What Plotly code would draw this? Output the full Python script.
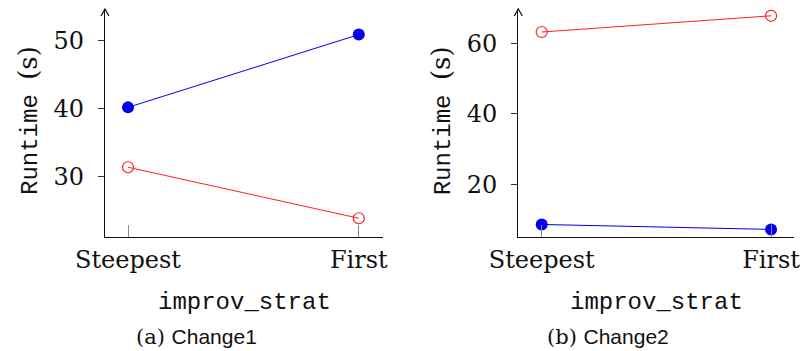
import plotly.graph_objects as go

W, H = 804, 351

categories = ["Steepest", "First"]
change1_blue = [40.2, 50.9]
change1_red = [31.4, 23.9]
change2_blue = [8.6, 7.2]
change2_red = [63.2, 67.8]
yticks_1 = [30, 40, 50]
yticks_2 = [20, 40, 60]
caption_tags = ["(a)", "(b)"]
caption_names = ["Change1", "Change2"]
x_title = "improv_strat"
y_title_mono = "Runtime"
y_title_unit = "(s)"

BLUE = "#0000ee"
RED = "#ff2020"
SERIF = "DejaVu Serif"
MONO = "Liberation Mono"
SANS = "Liberation Sans"


def fx(px):
    return px / W


def fy(py):
    return 1 - py / H


panels = [
    dict(x0=105, x1=383, xr=[-0.0997, 1.105], yr=[21.1, 54.66], ticks=yticks_1,
         blue=change1_blue, red=change1_red),
    dict(x0=518.3, x1=794, xr=[-0.102, 1.100], yr=[4.96, 69.73], ticks=yticks_2,
         blue=change2_blue, red=change2_red),
]
y_bot, y_top = 237.3, 9

fig = go.Figure()
layout = dict(
    width=W, height=H, margin=dict(l=0, r=0, t=0, b=0, autoexpand=False),
    paper_bgcolor="white", plot_bgcolor="white", showlegend=False,
)
annotations = []
shapes = []

for i, p in enumerate(panels):
    xa = "x" if i == 0 else "x2"
    ya = "y" if i == 0 else "y2"
    xkey = "xaxis" if i == 0 else "xaxis2"
    ykey = "yaxis" if i == 0 else "yaxis2"
    okey = "yaxis3" if i == 0 else "yaxis4"

    fig.add_trace(go.Scatter(
        x=categories, y=p["blue"], xaxis=xa, yaxis=ya, mode="lines+markers",
        line=dict(color=BLUE, width=1),
        marker=dict(symbol="circle", size=12, color=BLUE, line=dict(color=BLUE, width=0)),
    ))
    fig.add_trace(go.Scatter(
        x=categories, y=p["red"], xaxis=xa, yaxis=ya, mode="lines+markers",
        line=dict(color=RED, width=1),
        marker=dict(symbol="circle-open", size=11, color=RED, line=dict(color=RED, width=1.2)),
    ))

    layout[xkey] = dict(
        domain=[fx(p["x0"]), fx(p["x1"])], anchor=ya, type="category",
        range=p["xr"], showgrid=False, zeroline=False, automargin=False,
        showline=True, linecolor="#111", linewidth=1.2,
        ticks="inside", ticklen=12, tickcolor="#888", tickwidth=1,
        tickfont=dict(family=SERIF, size=24, color="#111"),
        ticklabelstandoff=1,
    )
    layout[ykey] = dict(
        domain=[fy(y_bot), fy(y_top)], anchor=xa, range=p["yr"],
        showgrid=False, zeroline=False, automargin=False,
        showline=True, linecolor="#111", linewidth=1.2,
        tickmode="array", tickvals=p["ticks"], ticktext=[str(t) for t in p["ticks"]],
        ticks="outside", ticklen=6, tickcolor="#333", tickwidth=1,
        tickfont=dict(family=SERIF, size=24, color="#111"),
        ticklabelstandoff=9,
    )
    layout[okey] = dict(
        overlaying=ya, anchor=xa, range=p["yr"], showgrid=False, zeroline=False,
        showline=False, tickmode="array", tickvals=p["ticks"], automargin=False,
        ticks="inside", ticklen=6, tickcolor="#333", tickwidth=1,
        showticklabels=False,
    )

    ax_x = p["x0"]
    shapes.append(dict(
        type="path", xref="paper", yref="paper",
        path=f"M {fx(ax_x-4)},{fy(y_top+7)} L {fx(ax_x)},{fy(y_top)} L {fx(ax_x+4)},{fy(y_top+7)}",
        line=dict(color="#111", width=1.2),
    ))

    cx = (p["x0"] + p["x1"]) / 2
    annotations.append(dict(
        x=fx(cx), y=fy(302), xref="paper", yref="paper", showarrow=False,
        text=x_title, font=dict(family=MONO, size=24, color="#111"),
        xanchor="center", yanchor="middle",
    ))
    annotations.append(dict(
        x=fx(p["x0"] - 76), y=fy(121), xref="paper", yref="paper",
        showarrow=False, textangle=-90,
        text=f"{y_title_mono} <span style='font-family:{SERIF};font-size:26px'>{y_title_unit}</span>",
        font=dict(family=MONO, size=24, color="#111"),
        xanchor="center", yanchor="middle",
    ))
    annotations.append(dict(
        x=fx(cx - 48), y=fy(337), xref="paper", yref="paper", showarrow=False,
        text=f"{caption_tags[i]} <span style='font-family:{SANS}'>{caption_names[i]}</span>",
        font=dict(family=SERIF, size=21, color="#111"),
        xanchor="center", yanchor="middle",
    ))

layout["annotations"] = annotations
layout["shapes"] = shapes
fig.update_layout(**layout)
fig.write_html("out.html")
